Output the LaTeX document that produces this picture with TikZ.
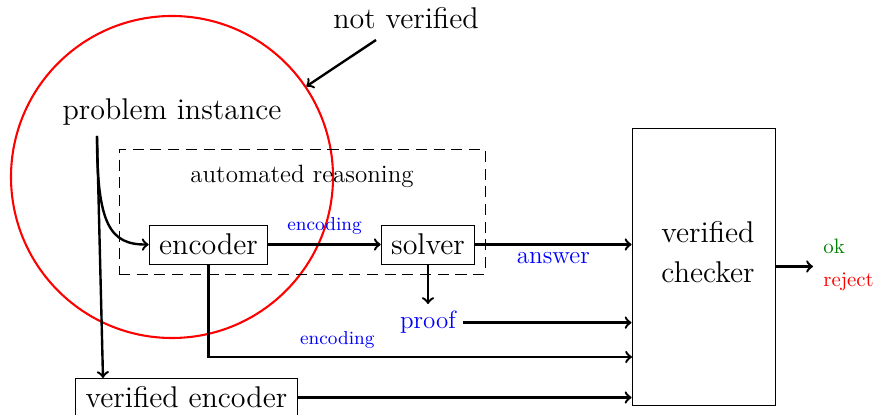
\documentclass[tikz,border=0pt]{standalone}
\begin{document}
\begin{tikzpicture}[x=0.48pt,y=-0.48pt,
  box/.style={draw, line width=0.45pt, inner xsep=4.8pt, minimum height=18.72pt, font=\Large},
  conn/.style={line width=1.15pt, ->},
  lbl/.style={text=blue, font=\small},
  biglbl/.style={text=blue, font=\large}]
\useasboundingbox (0,0) rectangle (879,415);
% red circle
\node[circle, draw=red, line width=1pt, minimum size=154.56pt, inner sep=0pt] (circ) at (172,177) {};
% texts
\node[font=\Large, anchor=base] (nv) at (406,29) {not verified};
\node[font=\Large, anchor=base] (pi) at (172,120) {problem instance};
\coordinate (nvstart) at (376,40);
\coordinate (pistart) at (97,136);
% dashed box
\node[draw, line width=0.45pt, dash pattern=on 5.3pt off 3.2pt, minimum width=175.68pt, minimum height=60pt, inner sep=0pt] (arbox) at (302,211.5) {};
\node[font=\large, anchor=base] (artext) at (302,183) {automated reasoning};
% boxes
\node[box] (enc) at (208.5,244.5) {encoder};
\node[box] (sol) at (428,244.5) {solver};
\node[box] (venc) at (186.5,397.5) {verified encoder};
\node[draw, line width=0.45pt, minimum width=68.64pt, minimum height=132.96pt, inner sep=0pt] (chk) at (703.5,266.5) {};
\node[font=\Large, align=center] (chktxt) at (708,252) {verified\\[1pt]checker};
\node[biglbl, anchor=base] (proof) at (428,329) {proof};
\node[text=green!50!black, font=\normalsize, inner sep=0pt, anchor=base west] (ok) at (823,254) {ok};
\node[text=red, font=\normalsize, inner sep=0pt, anchor=base west] (rej) at (823,287) {reject};
\coordinate (venctop) at (103,378);
\coordinate (outtip) at (813,266.5);
\coordinate (encrow) at (632,357);
% connectors
\draw[conn] (nvstart) -- (circ.34);
\draw[conn] (pistart) .. controls (97,225) and (110,245) .. (enc.west);
\draw[conn] (pistart) -- (venctop);
\draw[conn] (enc) -- node[lbl, above, yshift=1pt] {encoding} (sol);
\draw[conn] (sol) -- node[biglbl, below] {answer} (chk.west |- sol);
\draw[conn] (sol) -- (proof);
\draw[conn] (proof) -- (chk.west |- proof);
\draw[conn] (enc.south) |- node[lbl, above, pos=0.652] {encoding} (encrow);
\draw[conn] (venc) -- (chk.west |- venc);
\draw[conn] (chk) -- (outtip);
\end{tikzpicture}
\end{document}
